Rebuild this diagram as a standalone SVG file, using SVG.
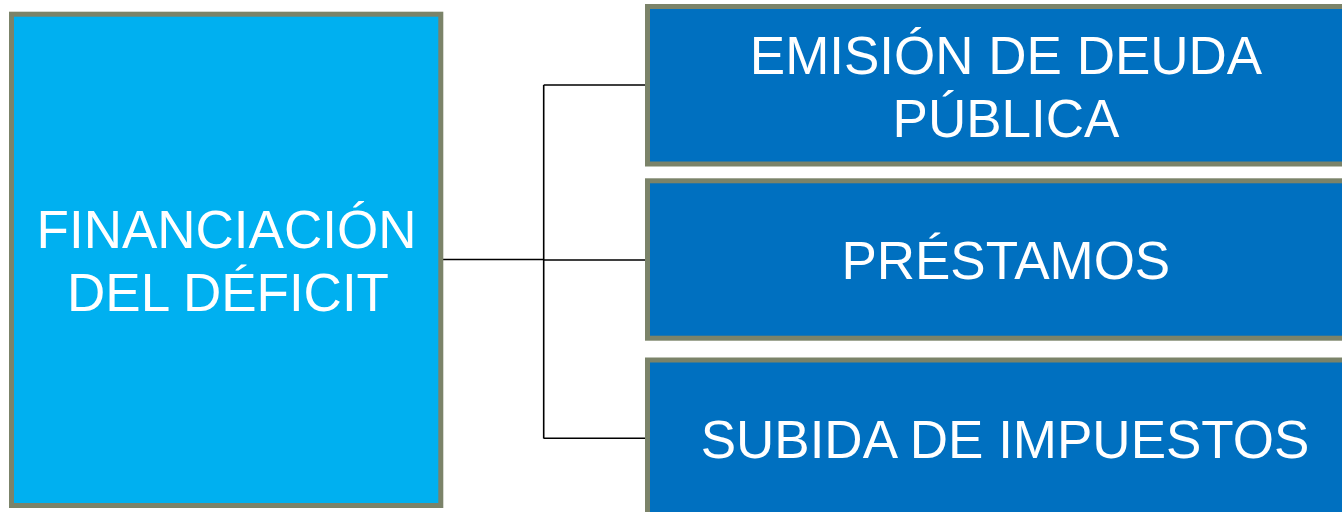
<svg xmlns="http://www.w3.org/2000/svg" width="1342" height="512" viewBox="0 0 1342 512">
  <style>
    .box { stroke: #7B8369; stroke-width: 5; }
    .main { fill: #00B0F0; }
    .sub { fill: #0070C0; }
    .lbl { font-family: "Liberation Sans", Arial, sans-serif; fill: #FFFFFF; text-anchor: middle; font-size: 53px; }
    .conn { stroke: #000000; stroke-width: 1.6; fill: none; }
  </style>
  <rect width="1342" height="512" fill="#FFFFFF"/>
  <g id="connectors">
    <path class="conn" d="M441 259.5 H544 M543.7 85 V438.5 M543.7 85 H646 M543.7 260 H646 M543.7 438.3 H646"/>
  </g>
  <g id="node-financiacion">
    <rect class="box main" x="11.5" y="14.2" width="429.3" height="491.3"/>
    <text class="lbl" x="226.5" y="247.5">FINANCIACIÓN</text>
    <text class="lbl" x="228" y="311">DEL DÉFICIT</text>
  </g>
  <g id="node-emision">
    <rect class="box sub" x="647.5" y="6.5" width="710" height="157.5"/>
    <text class="lbl" x="1006" y="74">EMISIÓN DE DEUDA</text>
    <text class="lbl" x="1006" y="137.3">PÚBLICA</text>
  </g>
  <g id="node-prestamos">
    <rect class="box sub" x="647.5" y="180.8" width="710" height="157.4"/>
    <text class="lbl" x="1005.8" y="279.3">PRÉSTAMOS</text>
  </g>
  <g id="node-subida">
    <rect class="box sub" x="647.5" y="360" width="710" height="160"/>
    <text class="lbl" x="1005" y="458.3">SUBIDA DE IMPUESTOS</text>
  </g>
</svg>
